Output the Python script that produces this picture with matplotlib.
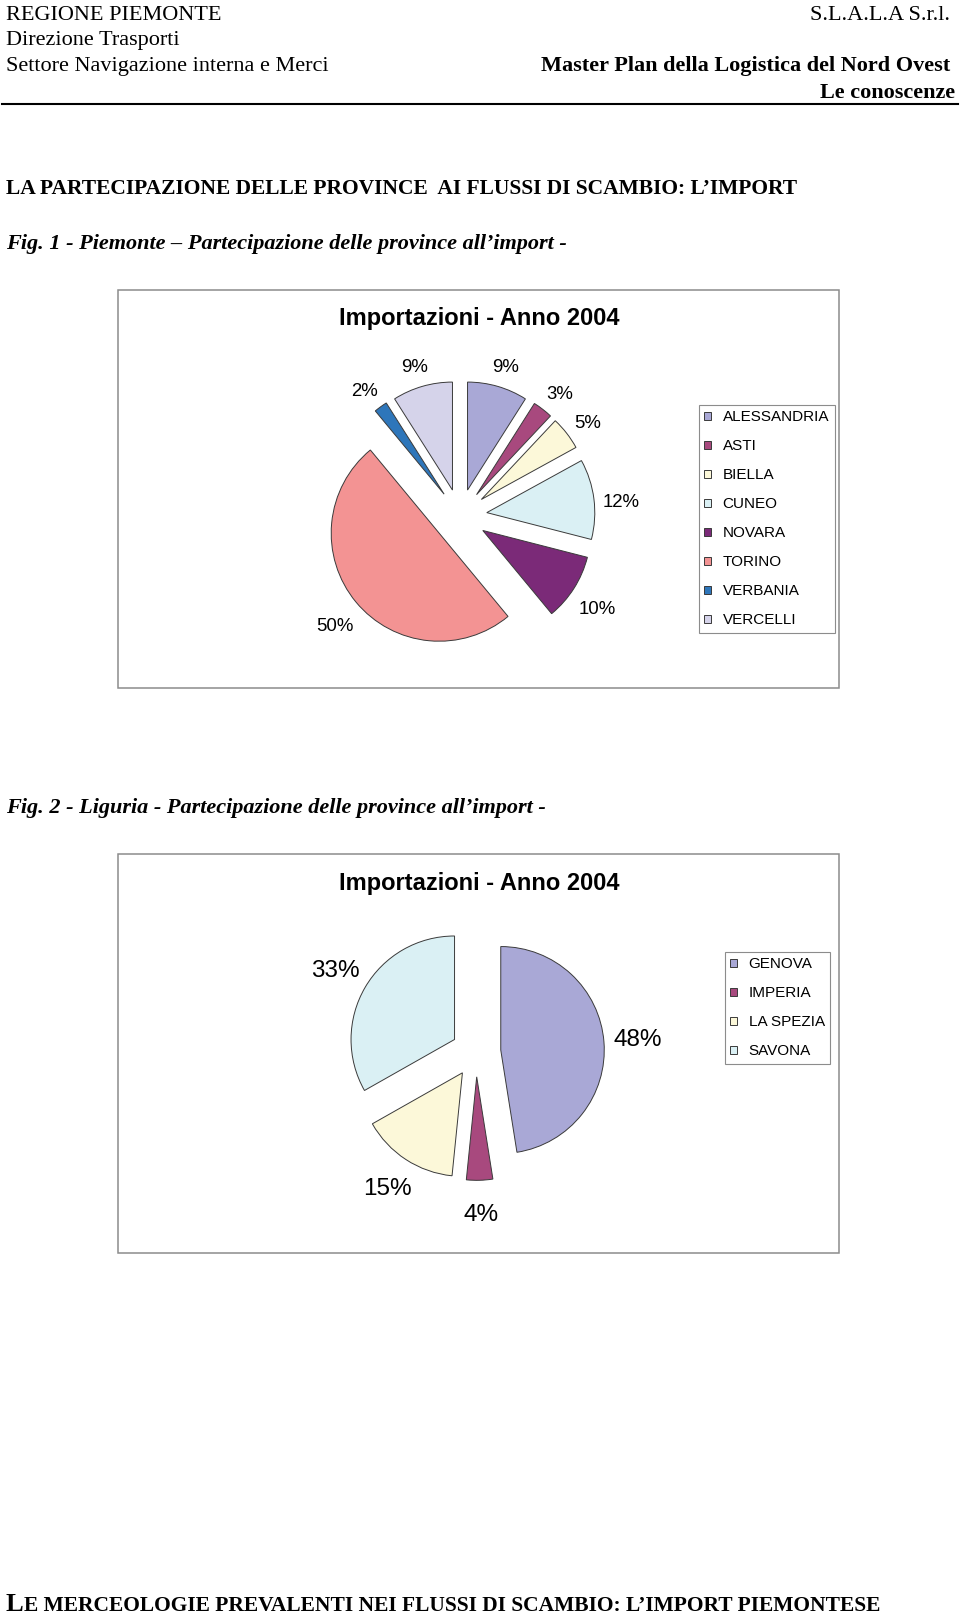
import matplotlib
matplotlib.use("Agg")
import matplotlib.pyplot as plt
from matplotlib.patches import Rectangle

W, H = 960, 1616

# Piemonte
pie1_names = ["ALESSANDRIA", "ASTI", "BIELLA", "CUNEO", "NOVARA", "TORINO", "VERBANIA", "VERCELLI"]
pie1_values = [9, 3, 5, 12, 10, 50, 2, 9]
pie1_colors = ["#a9a8d6", "#a8497e", "#fcf8d9", "#daf0f4", "#7b2a78", "#f39393", "#2e76ba", "#d5d3ea"]

# Liguria
pie2_names = ["GENOVA", "IMPERIA", "LA SPEZIA", "SAVONA"]
pie2_values = [47.5, 4.1, 15.2, 33.2]
pie2_colors = ["#a9a8d6", "#a8497e", "#fcf8d9", "#daf0f4"]

chart_title = "Importazioni - Anno 2004"

SERIF = "Liberation Serif"
SANS = "Liberation Sans"

fig = plt.figure(figsize=(W / 100, H / 100), dpi=100)
fig.patch.set_facecolor("white")

# page axes in pixel units (y down)
page = fig.add_axes([0, 0, 1, 1])
page.set_xlim(0, W)
page.set_ylim(H, 0)
page.axis("off")

# header
hdr = dict(family=SERIF, fontsize=16, va="baseline")
page.text(6, 20.5, "REGIONE PIEMONTE", **hdr)
page.text(6, 45.5, "Direzione Trasporti", **hdr)
page.text(6, 71, "Settore Navigazione interna e Merci", **hdr)
page.text(950, 20.5, "S.L.A.L.A S.r.l.", ha="right", **hdr)
page.text(950, 71, "Master Plan della Logistica del Nord Ovest", ha="right", weight="bold", **hdr)
page.text(955, 98, "Le conoscenze", ha="right", weight="bold", **hdr)
page.plot([2, 958], [104, 104], color="black", lw=1.5)

page.text(6, 194, "LA PARTECIPAZIONE DELLE PROVINCE  AI FLUSSI DI SCAMBIO: L\u2019IMPORT",
          family=SERIF, fontsize=15.5, va="baseline", weight="bold")
page.text(6, 248.5, "Fig. 1 - Piemonte \u2013 Partecipazione delle province all\u2019import -",
          weight="bold", style="italic", **hdr)
page.text(6, 812.5, "Fig. 2 - Liguria - Partecipazione delle province all\u2019import -",
          weight="bold", style="italic", **hdr)

# bottom heading in small caps
big_l = page.text(6, 1611, "L", family=SERIF, fontsize=19, weight="bold", va="baseline")
fig.canvas.draw()
bb = big_l.get_window_extent()
page.text(6 + bb.width, 1611, "E MERCEOLOGIE PREVALENTI NEI FLUSSI DI SCAMBIO: L\u2019IMPORT PIEMONTESE",
          family=SERIF, fontsize=15.45, weight="bold", va="baseline")


def chart(box, title_y, cx, cy, r, values, names, colors, explode, pctdist, pct_size,
          leg_xy, label_dy=0.0):
    x0, y0, x1, y1 = box
    page.add_patch(Rectangle((x0, y0), x1 - x0, y1 - y0, fill=False,
                             edgecolor="#8c8c8c", lw=1.1))
    page.text((x0 + x1) / 2 + 1, title_y, chart_title, family=SANS, fontsize=17,
              weight="bold", ha="center", va="center")
    ax = fig.add_axes([(cx - 2 * r) / W, 1 - (cy + 2 * r) / H, 4 * r / W, 4 * r / H])
    wedges, _, autotexts = ax.pie(values, colors=colors, explode=[explode] * len(values),
                                  startangle=90, counterclock=False, radius=1,
                                  autopct="%.0f%%", pctdistance=pctdist,
                                  wedgeprops=dict(edgecolor="#3a3a3a", linewidth=0.7),
                                  textprops=dict(family=SANS, fontsize=pct_size))
    for t in autotexts:
        px, py = t.get_position()
        t.set_position((px, py - label_dy / r))
    ax.set_xlim(-2, 2)
    ax.set_ylim(-2, 2)
    ax.axis("off")
    leg = ax.legend(wedges, names, loc="upper left",
                    bbox_to_anchor=(leg_xy[0] / W, 1 - leg_xy[1] / H),
                    bbox_transform=fig.transFigure, prop=dict(family=SANS, size=11),
                    handlelength=0.45, handleheight=0.45, handletextpad=0.75,
                    labelspacing=0.98, borderpad=0.35, borderaxespad=0,
                    fancybox=False, framealpha=1, edgecolor="#8c8c8c")
    leg.get_frame().set_linewidth(0.8)
    return ax


chart((117.5, 290, 839, 688), 318.5, 460, 516, 108, pie1_values, pie1_names, pie1_colors,
      0.25, 1.25, 13.4, (699, 405), label_dy=7)
chart((117.5, 854, 839, 1253), 883.5, 476, 1052, 103.5, pie2_values, pie2_names, pie2_colors,
      0.24, 1.33, 17.5, (725, 952), label_dy=1)

fig.savefig("out.png", dpi=100, facecolor="white")
